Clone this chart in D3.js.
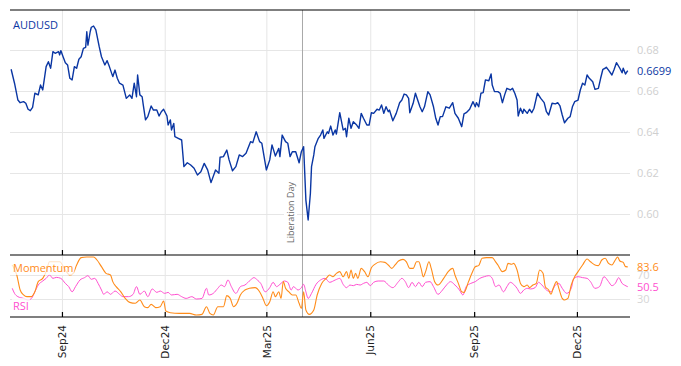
<!DOCTYPE html>
<html><head><meta charset="utf-8">
<script src="https://cdn.jsdelivr.net/npm/d3@7"></script>
<style>body{margin:0;background:#fff}</style>
</head><body>
<svg id="chart" width="681" height="366"></svg>
<script>
// ---------- data ----------
const startDate = new Date(2024, 6, 17);
const endDate = new Date(2026, 0, 17);
// day offsets from startDate
const audDays = [1,4,7,9,12,14,16,18,20,22,
25,27,29,32,34,36,38,40,43,44,
45,47,49,51,53,55,57,59,61,63,
65,67,68,69,71,72,74,76,79,81,
84,86,88,91,93,95,97,100,103,106,
108,110,112,113,115,117,118,120,122,125,
127,130,132,134,136,139,140,142,143,145,
146,149,152,154,157,160,163,166,169,172,
175,178,182,185,186,189,192,194,197,200,
203,206,209,213,215,218,221,223,227,230,
232,235,238,239,241,244,246,248,250,253,
256,258,260,262,264,266,267,269,270,273,
275,277,278,281,282,284,286,288,289,292,
295,297,298,300,302,304,307,309,311,313,
316,318,320,322,325,327,329,331,333,335,
336,339,342,345,347,349,351,353,354,357,
359,361,363,365,367,370,372,375,377,379,
381,383,386,389,392,394,397,400,402,404,
407,410,412,413,415,417,419,421,424,426,
427,429,432,434,436,438,440,443,445,447,
449,450,452,454,455,458,460,462,464,467,
470,473,475,477,480,483,485,487,489,491,
494,496,498,500,503,505,507,509,511,513,
516,518,521,523,525,527,528,530,533,535,
537,540,542,543,545,547];
const audValues = [0.6706,0.6638,0.6556,0.6543,0.6548,0.6540,0.6511,0.6504,0.6520,0.6589,
0.6581,0.6629,0.6605,0.6719,0.6743,0.6711,0.6792,0.6784,0.6792,0.6776,
0.6797,0.6767,0.6738,0.6727,0.6662,0.6654,0.6719,0.6711,0.6755,0.6767,
0.6808,0.6813,0.6889,0.6824,0.6889,0.6911,0.6917,0.6898,0.6816,0.6767,
0.6727,0.6748,0.6719,0.6670,0.6702,0.6662,0.6638,0.6629,0.6564,0.6581,
0.6564,0.6638,0.6572,0.6678,0.6581,0.6572,0.6532,0.6459,0.6475,0.6527,
0.6507,0.6507,0.6478,0.6499,0.6511,0.6478,0.6434,0.6459,0.6410,0.6442,
0.6377,0.6369,0.6361,0.6231,0.6250,0.6239,0.6223,0.6190,0.6206,0.6247,
0.6215,0.6153,0.6215,0.6199,0.6277,0.6280,0.6312,0.6264,0.6211,0.6231,
0.6288,0.6280,0.6296,0.6353,0.6348,0.6401,0.6353,0.6345,0.6215,0.6264,
0.6337,0.6283,0.6320,0.6280,0.6385,0.6353,0.6345,0.6280,0.6304,0.6304,
0.6250,0.6304,0.6328,0.6068,0.5971,0.6101,0.6231,0.6288,0.6328,0.6369,
0.6385,0.6410,0.6369,0.6401,0.6393,0.6429,0.6385,0.6410,0.6390,0.6494,
0.6410,0.6418,0.6377,0.6467,0.6418,0.6450,0.6434,0.6418,0.6491,0.6467,
0.6434,0.6434,0.6494,0.6491,0.6511,0.6507,0.6532,0.6491,0.6523,0.6499,
0.6507,0.6455,0.6491,0.6543,0.6556,0.6585,0.6581,0.6564,0.6494,0.6540,
0.6589,0.6556,0.6523,0.6499,0.6523,0.6597,0.6581,0.6523,0.6467,0.6434,
0.6475,0.6475,0.6523,0.6516,0.6543,0.6491,0.6467,0.6426,0.6488,0.6494,
0.6511,0.6548,0.6523,0.6543,0.6523,0.6589,0.6592,0.6654,0.6650,0.6683,
0.6629,0.6597,0.6597,0.6589,0.6543,0.6581,0.6613,0.6605,0.6613,0.6589,
0.6556,0.6478,0.6516,0.6491,0.6511,0.6491,0.6511,0.6494,0.6516,0.6589,
0.6564,0.6543,0.6499,0.6483,0.6540,0.6537,0.6543,0.6527,0.6483,0.6445,
0.6467,0.6475,0.6523,0.6548,0.6556,0.6605,0.6638,0.6629,0.6678,0.6662,
0.6645,0.6608,0.6613,0.6662,0.6706,0.6711,0.6716,0.6702,0.6678,0.6706,
0.6738,0.6711,0.6689,0.6711,0.6683,0.6699];

const momDays = [2,6,9,12,15,19,22,25,29,32,
35,40,44,49,53,56,59,63,68,74,
77,81,85,89,91,94,98,102,106,111,
115,119,122,125,129,133,136,138,142,150,
159,165,170,174,177,180,184,189,192,195,
198,201,204,208,212,217,221,224,227,230,
233,235,238,240,242,244,247,250,253,256,
258,260,262,265,269,272,276,280,283,286,
289,292,295,298,300,302,304,306,308,311,
314,317,320,323,328,332,335,338,341,344,
348,351,354,357,360,362,364,366,368,371,
373,376,379,384,388,392,394,397,400,402,
406,409,412,415,418,422,427,430,432,436,
439,441,444,446,449,452,455,458,460,463,
466,469,472,474,477,479,481,484,486,489,
491,494,497,500,503,507,511,514,518,521,
524,527,530,533,536,538,540,543,545,547];
const momValues = [86.7,70,45,36.7,33.9,34,42,58.9,64.4,75.6,
92,92,92,78,70,72.8,86.7,98.9,100,100,
95,83.9,72.8,70,58.9,50.6,42.2,31,24.4,22.8,
28.3,17.2,15.6,21.1,15.6,17.2,26.7,10,7.2,6.1,
6.1,3.3,4.4,17.2,6,3.3,17.2,17.2,35.6,31,
17,22.8,36.7,45,47.8,48.9,42.2,31,18.9,25.6,
42,33.9,42,31,58.9,47.8,42,36.7,36.7,22.8,
14.4,42,11.7,4.4,11.7,36.7,56,64.4,70,67,
72.8,75.6,67,75.6,64.4,78.3,64.4,72.8,64.4,81,
75.6,67,82.2,87.8,92,91,86.7,81,86.7,93.3,
96,92,81,81,92,92,81,67,75.6,92,
81,58.9,53.3,64.4,75.6,81,70,56,42,41,
58.9,72.8,83.9,85.6,97.8,98.9,98.9,92,86.7,75.6,
78.3,89.4,87.8,89.4,78.3,56,50.6,53.3,48.9,53.3,
56,78.3,72.8,50.6,45,37.8,47.8,58.9,47.8,31,
28.3,31,53.3,67,75.6,86.7,96.7,92,86.7,85.6,
95,97.8,89.4,86.7,95,100,93.3,91,83.9,83.6];

const rsiDays = [2,4,7,12,16,19,22,25,29,32,35,38,41,45,49,52,55,58,62,66,69,72,75,78,81,83,86,89,93,97,
100,105,109,112,115,119,122,126,130,133,137,140,143,148,152,156,161,165,170,174,176,180,184,187,190,193,196,200,204,208,
213,216,219,222,226,230,233,236,239,243,246,249,251,255,258,260,262,264,267,271,275,279,283,288,292,
295,298,301,304,307,310,313,316,319,322,326,331,335,339,344,347,350,353,356,359,362,365,368,372,375,
379,383,387,390,394,398,401,404,408,412,416,420,424,427,430,433,437,440,443,446,449,452,455,458,461,
465,468,471,475,479,483,486,489,493,497,499,503,507,511,514,518,522,526,530,533,536,539,542,544,547];
const rsiValues = [47.8,39.4,33.9,31,28.3,31,42,53.3,60,64.4,70,64.4,66,64.4,56,50.6,42,50.6,61.7,65.6,68.9,62.8,64.4,56,45,37.8,42,37.8,43.3,37.8,
33.9,33.9,37.8,50.6,37.8,43.3,33.9,46.7,41,43.3,39.4,41,36.7,37.8,33.9,31,33.9,30,31,47.8,36.7,39.4,47.8,53.3,50.6,61.7,50.6,39.4,50.6,53.3,
61.7,65.6,61.7,56,42,48.9,57.8,50.6,54.4,60,57.8,45,50.6,45,48.9,54.4,42,31,39.4,54.4,61.7,64.4,57.8,61.7,64.4,
54.4,48.9,53.3,52.2,54.4,53.3,56,57.8,52.2,57.8,60,60,53.3,48.9,58.9,64.4,58.9,48.9,57.8,50.6,57.8,50.6,57.8,58.9,50.6,
37.8,45,54.4,58.9,53.3,45,36.7,50.6,56,58.9,64.4,67.2,68.9,64.4,50.6,53.3,42,50.6,57.8,54.4,47.8,39.4,45,47.8,46.7,
48.9,57.8,53.3,45,42,53.3,56,47.8,39.4,47.8,63.3,67.2,65.6,64.4,58.9,47.8,50.6,67.2,58.9,52.2,56,65.6,56,53.3,50.5];

const priceTicks = [0.60, 0.62, 0.64, 0.66, 0.68];
const oscTicks = [30, 70];
const monthTickDates = ["2024-09-01","2024-12-01","2025-03-01","2025-06-01","2025-09-01","2025-12-01"];
const monthTickLabels = ["Sep24","Dec24","Mar25","Jun25","Sep25","Dec25"];
const eventDate = "2025-04-02";
const eventLabel = "Liberation Day";
const seriesNames = ["AUDUSD", "Momentum", "RSI"];
const lastLabels = ["0.6699", "83.6", "50.5"];

// ---------- chart ----------
const svg = d3.select("#chart");
const L = 10, R = 630, topY = 10, midY = 255, botY = 317;
const parse = d3.timeParse("%Y-%m-%d");
const toDate = d => d3.timeDay.offset(startDate, d);

const x = d3.scaleTime().domain([startDate, endDate]).range([L, R]);
const yP = d3.scaleLinear().domain([0.60, 0.68]).range([214, 50]);
const yO = d3.scaleLinear().domain([0, 100]).range([317, 257]);
const tickDates = monthTickDates.map(parse);

const gridColor = "#e6e6e6";
const BLUE = "#0a36a3", ORANGE = "#ff8c1a", PINK = "#ff4fd0";

// horizontal grid + right labels (price)
const gP = svg.append("g").attr("transform", `translate(${R},0)`)
  .call(d3.axisRight(yP).tickValues(priceTicks).tickSize(-(R - L)).tickPadding(7).tickFormat(d3.format(".2f")));
gP.select(".domain").remove();
gP.selectAll("line").attr("stroke", gridColor);
gP.selectAll("text").attr("fill", "#cfcfcf").style("font-family", "Open Sans").style("font-size", "11px");

// horizontal grid + right labels (osc)
const gO = svg.append("g").attr("transform", `translate(${R},0)`)
  .call(d3.axisRight(yO).tickValues(oscTicks).tickSize(-(R - L)).tickPadding(7));
gO.select(".domain").remove();
gO.selectAll("line").attr("stroke", gridColor);
gO.selectAll("text").attr("fill", "#d6d6d6").style("font-family", "Open Sans").style("font-size", "11px");

// vertical grid
const gV1 = svg.append("g").attr("transform", `translate(0,${midY})`)
  .call(d3.axisBottom(x).tickValues(tickDates).tickSize(-(midY - topY)).tickFormat(""));
gV1.select(".domain").remove();
gV1.selectAll("line").attr("stroke", gridColor);
const gV2 = svg.append("g").attr("transform", `translate(0,${botY})`)
  .call(d3.axisBottom(x).tickValues(tickDates).tickSize(-(botY - midY)).tickFormat(""));
gV2.select(".domain").remove();
gV2.selectAll("line").attr("stroke", gridColor);

// event line
const ex = x(parse(eventDate));
svg.append("line").attr("x1", ex).attr("x2", ex).attr("y1", topY).attr("y2", botY)
  .attr("stroke", "#a8a8a8").attr("stroke-width", 1);

// series lines
const audData = audDays.map((d, i) => ({date: toDate(d), v: audValues[i]}));
const momData = momDays.map((d, i) => ({date: toDate(d), v: momValues[i]}));
const rsiData = rsiDays.map((d, i) => ({date: toDate(d), v: rsiValues[i]}));

svg.append("path").datum(rsiData).attr("fill", "none").attr("stroke", PINK).attr("stroke-width", 1)
  .attr("d", d3.line().x(d => x(d.date)).y(d => yO(d.v)).curve(d3.curveMonotoneX));
svg.append("path").datum(momData).attr("fill", "none").attr("stroke", ORANGE).attr("stroke-width", 1.1)
  .attr("d", d3.line().x(d => x(d.date)).y(d => yO(d.v)).curve(d3.curveMonotoneX));
svg.append("path").datum(audData).attr("fill", "none").attr("stroke", BLUE).attr("stroke-width", 1.4)
  .attr("stroke-linejoin", "round")
  .attr("d", d3.line().x(d => x(d.date)).y(d => yP(d.v)));

// event label
const evG = svg.append("g").attr("transform", `translate(${ex - 8.5},243) rotate(-90)`);
const evT = evG.append("text").attr("text-anchor", "start").attr("dy", "0")
  .style("font-family", "Open Sans").style("font-size", "9px").attr("fill", "#666").text(eventLabel);
const eb = evT.node().getBBox();
evG.insert("rect", "text").attr("x", eb.x - 1).attr("y", eb.y).attr("width", eb.width + 2).attr("height", eb.height)
  .attr("fill", "#fff");

// frame lines
[topY, midY, botY].forEach(yy => {
  svg.append("line").attr("x1", L).attr("x2", R).attr("y1", yy).attr("y2", yy).attr("stroke", "#000").attr("stroke-width", 1.2);
});

// tick marks (pointing up)
[midY, botY].forEach(yy => {
  const g = svg.append("g").attr("transform", `translate(0,${yy})`)
    .call(d3.axisTop(x).tickValues(tickDates).tickSize(5).tickFormat(""));
  g.select(".domain").remove();
  g.selectAll("line").attr("stroke", "#000").attr("stroke-width", 1.2);
});

// x labels
const gX = svg.append("g").attr("transform", `translate(0,${botY})`)
  .call(d3.axisBottom(x).tickValues(tickDates).tickSize(0).tickFormat((d, i) => monthTickLabels[i]));
gX.select(".domain").remove();
gX.selectAll("text").attr("transform", "rotate(-90)").attr("text-anchor", "end")
  .attr("x", -8).attr("y", 0).attr("dy", "0.35em")
  .attr("fill", "#222").style("font-family", "DejaVu Sans").style("font-size", "10.5px");

// legends with bg
function legend(txt, xx, yy, color, alpha) {
  const g = svg.append("g");
  const t = g.append("text").attr("x", xx).attr("y", yy).attr("fill", color)
    .style("font-family", "Open Sans").style("font-size", "11px").text(txt);
  const b = t.node().getBBox();
  g.insert("rect", "text").attr("x", b.x - 1).attr("y", b.y).attr("width", b.width + 2).attr("height", b.height)
    .attr("fill", "#fff").attr("fill-opacity", alpha);
}
legend(seriesNames[0], 13, 29, BLUE, 0.8);
legend(seriesNames[1], 13, 272, ORANGE, 0.75);
legend(seriesNames[2], 13, 310, PINK, 0.75);

// last values
function lastLabel(txt, yy, color) {
  svg.append("text").attr("x", R + 7).attr("y", yy).attr("dy", "0.35em").attr("fill", color)
    .style("font-family", "Open Sans").style("font-size", "11px").text(txt);
}
lastLabel(lastLabels[0], yP(audValues[audValues.length - 1]), BLUE);
lastLabel(lastLabels[1], yO(momValues[momValues.length - 1]), ORANGE);
lastLabel(lastLabels[2], yO(rsiValues[rsiValues.length - 1]), PINK);
</script>
</body></html>
